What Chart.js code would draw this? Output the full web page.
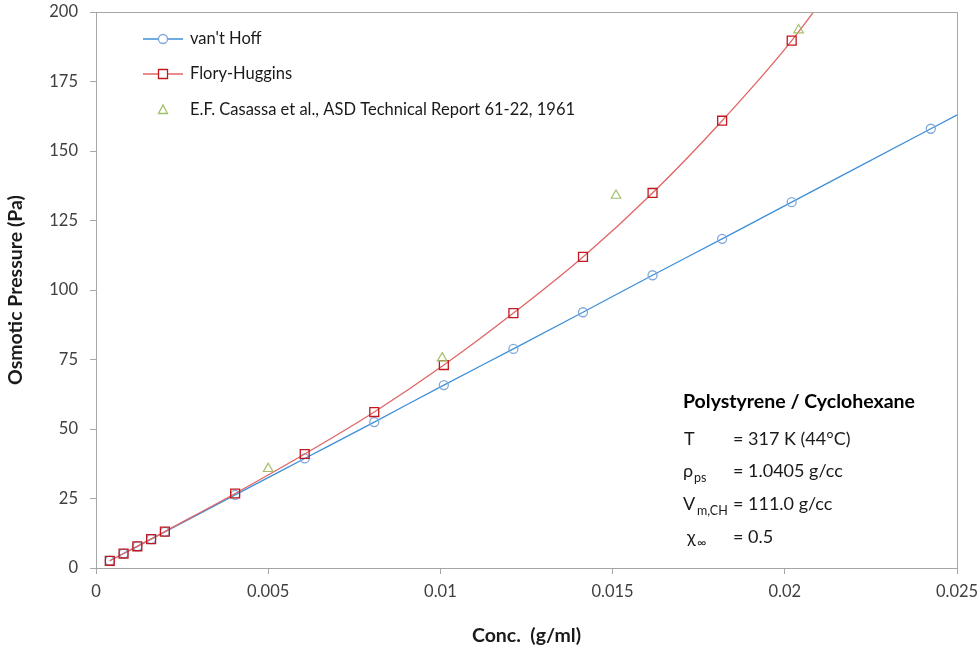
<!DOCTYPE html>
<html><head><meta charset="utf-8">
<script src="https://cdn.jsdelivr.net/npm/chart.js@4/dist/chart.umd.min.js"></script>
<style>html,body{margin:0;padding:0;background:#fff}#wrap{width:980px;height:647px}</style>
</head><body><div id="wrap"><canvas id="c" width="980" height="647"></canvas></div>
<script>
const conc = [0.0004,0.0008,0.0012,0.0016,0.002,0.00404,0.00606,0.00808,0.0101,0.01212,0.01414,0.01616,0.01818,0.0202,0.02424];
const vantHoff = [2.6,5.2,7.8,10.4,13.0,26.3,39.4,52.5,65.8,78.8,92.0,105.3,118.4,131.6,158.0];
const floryHuggins = [2.6,5.2,7.8,10.4,13.1,26.8,41.0,56.1,73.0,91.7,111.9,134.9,160.9,189.7,259.0];
const extraConc = 0.02828, extraVant = 184.2;
const casassaConc = [0.005,0.01005,0.0151,0.0204];
const casassaVal = [35.7,75.5,134.0,193.5];
const xTickLabels = ['0','0.005','0.01','0.015','0.02','0.025'];
const yTickLabels = ['0','25','50','75','100','125','150','175','200'];
const legendLabels = ["van't Hoff","Flory-Huggins","E.F. Casassa et al., ASD Technical Report 61-22, 1961"];

const FONT = 'Lato, "Open Sans", sans-serif';
const blueLine = '#3d8fd8', blueMark = '#7fa8db';
const redLine = '#e06666', redMark = '#c0181c';
const green = '#a2c06a';

const vhData = conc.map((c,i)=>({x:c,y:vantHoff[i]})).concat([{x:extraConc,y:extraVant}]);
const fhData = conc.map((c,i)=>({x:c,y:floryHuggins[i]}));
const caData = casassaConc.map((c,i)=>({x:c,y:casassaVal[i]}));
const vhRadius = vhData.map(p=>p.x>0.025?0:4.5);
const fhRadius = fhData.map(p=>p.y>200?0:6.3);

const frame = {
  id:'frame',
  afterDraw(chart){
    const {ctx, chartArea:a} = chart;
    ctx.save();
    ctx.strokeStyle = '#a6a6a6'; ctx.lineWidth = 1;
    ctx.beginPath();
    ctx.moveTo(a.left, a.top+0.5); ctx.lineTo(a.right+0.5, a.top+0.5); ctx.lineTo(a.right+0.5, a.bottom);
    ctx.stroke();
    // legend
    const ys=[39,74,110];
    ctx.textBaseline='middle';
    ctx.strokeStyle=blueLine; ctx.lineWidth=1.3;
    ctx.beginPath(); ctx.moveTo(143,ys[0]); ctx.lineTo(183,ys[0]); ctx.stroke();
    ctx.strokeStyle=blueMark; ctx.fillStyle='#fff';
    ctx.beginPath(); ctx.arc(163,ys[0],4.5,0,Math.PI*2); ctx.fill(); ctx.stroke();
    ctx.strokeStyle=redLine; ctx.beginPath(); ctx.moveTo(143,ys[1]); ctx.lineTo(183,ys[1]); ctx.stroke();
    ctx.strokeStyle=redMark; ctx.fillStyle='#fff';
    ctx.beginPath(); ctx.rect(158.5,ys[1]-4.5,9,9); ctx.fill(); ctx.stroke();
    ctx.strokeStyle=green; ctx.beginPath();
    ctx.moveTo(163,ys[2]-5); ctx.lineTo(167.5,ys[2]+3.5); ctx.lineTo(158.5,ys[2]+3.5); ctx.closePath(); ctx.stroke();
    ctx.font = '16.5px '+FONT; ctx.fillStyle='#1a1a1a';
    ctx.fillText(legendLabels[0],190,ys[0]);
    ctx.fillText(legendLabels[1],190,ys[1]);
    ctx.fillText(legendLabels[2],190,ys[2]);
    // annotation
    ctx.fillStyle='#000';
    ctx.font='bold 19.5px '+FONT;
    ctx.fillText('Polystyrene / Cyclohexane',683,402);
    const big='18px '+FONT, small='12.5px '+FONT;
    ctx.fillStyle='#1a1a1a';
    ctx.font=big; ctx.fillText('T',684,439); ctx.fillText('= 317 K (44°C)',733,439);
    ctx.fillText('ρ',683,471); ctx.font=small; ctx.fillText('ps',694,478);
    ctx.font=big; ctx.fillText('= 1.0405 g/cc',733,471);
    ctx.fillText('V',683,504); ctx.font=small; ctx.fillText('m,CH',697,511);
    ctx.font=big; ctx.fillText('= 111.0 g/cc',733,504);
    ctx.fillText('χ',687,537); ctx.font=small; ctx.fillText('∞',697,543);
    ctx.font=big; ctx.fillText('= 0.5',733,537);
    ctx.restore();
  }
};

new Chart(document.getElementById('c'),{
  type:'scatter',
  data:{datasets:[
    {label:legendLabels[0],data:vhData,showLine:true,borderColor:blueLine,borderWidth:1.3,
     pointStyle:'circle',pointRadius:vhRadius,pointBorderColor:blueMark,pointBackgroundColor:'rgba(255,255,255,0)',pointBorderWidth:1.3,
     cubicInterpolationMode:'monotone',order:3},
    {label:legendLabels[1],data:fhData,showLine:true,borderColor:redLine,borderWidth:1.3,
     pointStyle:'rect',pointRadius:fhRadius,pointBorderColor:redMark,pointBackgroundColor:'rgba(255,255,255,0)',pointBorderWidth:1.3,
     cubicInterpolationMode:'monotone',order:2},
    {label:legendLabels[2],data:caData,showLine:false,pointStyle:'triangle',pointRadius:5.5,
     pointBorderColor:green,pointBackgroundColor:'rgba(255,255,255,0)',pointBorderWidth:1.2,order:1}
  ]},
  options:{
    responsive:false,animation:false,
    layout:{padding:{left:0,right:23,top:12,bottom:0}},
    plugins:{legend:{display:false},tooltip:{enabled:false}},
    scales:{
      x:{type:'linear',min:0,max:0.025,
        ticks:{stepSize:0.005,padding:8,color:'#404040',font:{family:FONT,size:16.5},
          callback:(v)=>{const i=Math.round(v/0.005);return xTickLabels[i]??'';}},
        grid:{drawOnChartArea:false,drawTicks:true,tickLength:6,color:'#a6a6a6'},
        border:{display:true,color:'#a6a6a6'},
        title:{display:true,text:'Conc.  (g/ml)',color:'#1a1a1a',font:{family:FONT,size:19.5,weight:'bold'},padding:{top:9,bottom:0}},
        afterFit:(s)=>{s.height=79;s.paddingLeft=0;s.paddingRight=0;}
      },
      y:{type:'linear',min:0,max:200,
        ticks:{stepSize:25,padding:12,color:'#404040',font:{family:FONT,size:16.5},
          callback:(v)=>{const i=Math.round(v/25);return yTickLabels[i]??'';}},
        grid:{drawOnChartArea:false,drawTicks:true,tickLength:6,color:'#a6a6a6'},
        border:{display:true,color:'#a6a6a6'},
        title:{display:true,text:'Osmotic Pressure (Pa)',color:'#1a1a1a',font:{family:FONT,size:19.5,weight:'bold'},padding:{top:4,bottom:4}},
        afterFit:(s)=>{s.width=96;s.paddingTop=0;s.paddingBottom=0;}
      }
    }
  },
  plugins:[frame]
});
</script></body></html>
